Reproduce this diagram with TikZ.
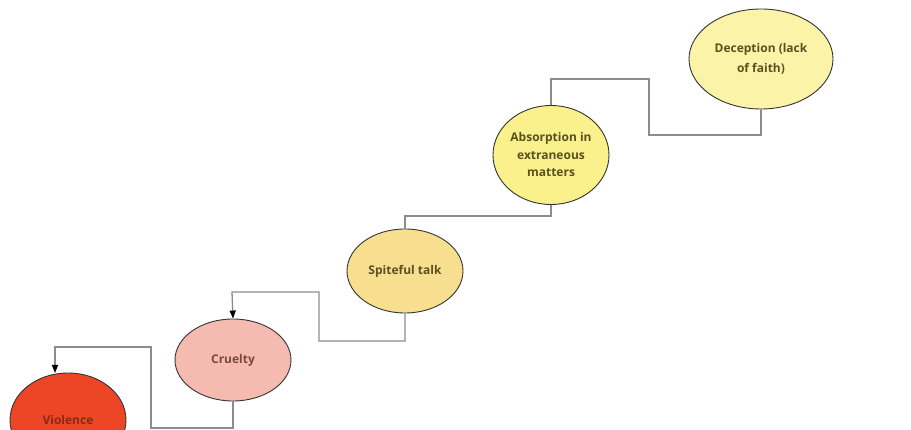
\documentclass[tikz,border=0pt]{standalone}
\usepackage{fontspec}
\setmainfont{Open Sans}
\usetikzlibrary{shapes.geometric,arrows.meta}
\definecolor{vioC}{HTML}{EC4626}
\definecolor{cruC}{HTML}{F5BAB0}
\definecolor{spiC}{HTML}{F8DF90}
\definecolor{absC}{HTML}{FAF08C}
\definecolor{decC}{HTML}{FBF3A8}
\definecolor{txtC}{HTML}{5A5020}
\definecolor{vtxC}{HTML}{8B2A12}
\definecolor{ctxC}{HTML}{7A4A40}
\definecolor{lnC}{HTML}{8C8C8C}
\tikzset{
  oval/.style={ellipse, draw=black!80, line width=0.9pt, inner sep=0pt,
    font=\fontsize{12}{17.5}\selectfont\bfseries, text=txtC, align=center},
  conn/.style={draw=lnC, line width=1.3pt},
  connarrow/.style={conn, -{Triangle[length=8pt,width=6pt,color=black]}},
}
\begin{document}
\begin{tikzpicture}[x=1pt,y=-1pt]
\useasboundingbox (0,0) rectangle (911,430);
\node[oval, fill=vioC, text=vtxC, minimum width=116pt, minimum height=94pt] (vio) at (68,420) {Violence};
\node[oval, fill=cruC, text=ctxC, minimum width=116pt, minimum height=82pt] (cru) at (233,360) {Cruelty};
\node[oval, fill=spiC, minimum width=116pt, minimum height=84pt] (spi) at (405,271) {Spiteful talk};
\node[oval, fill=absC, minimum width=116pt, minimum height=99pt] (abs) at (551,155) {Absorption in\\extraneous\\matters};
\node[oval, fill=decC, minimum width=144pt, minimum height=100pt, font=\fontsize{12}{20}\selectfont\bfseries] (dec) at (761,59) {Deception (lack\\of faith)};
% Deception -> Absorption
\coordinate (d1) at (761,135);
\coordinate (d2) at (649,135);
\coordinate (d3) at (649,79);
\coordinate (d4) at (551,79);
\draw[conn] (dec.south) -- (d1) -- (d2) -- (d3) -- (d4) -- (abs.north);
% Absorption -> Spiteful
\coordinate (a1) at (551,216);
\coordinate (a2) at (405,216);
\draw[conn] (abs.south) -- (a1) -- (a2) -- (spi.north);
% Spiteful -> Cruelty
\coordinate (s1) at (405,341);
\coordinate (s2) at (319,341);
\coordinate (s3) at (319,292);
\coordinate (s4) at (232,292);
\draw[connarrow] (spi.south) -- (s1) -- (s2) -- (s3) -- (s4) -- (cru.north);
% Cruelty -> Violence
\coordinate (c1) at (233,428);
\coordinate (c2) at (151,428);
\coordinate (c3) at (151,347);
\coordinate (c4) at (55,347);
\coordinate (c5) at (55,373);
\draw[connarrow] (cru.south) -- (c1) -- (c2) -- (c3) -- (c4) -- (c5);
\end{tikzpicture}
\end{document}
